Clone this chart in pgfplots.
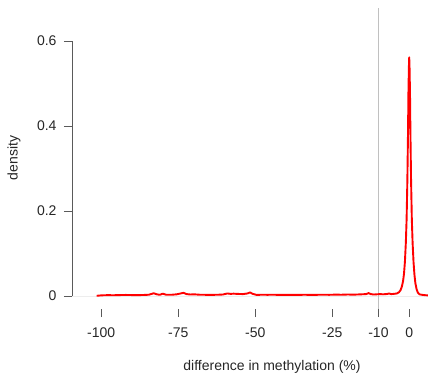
\documentclass[border=0pt]{standalone}
\usepackage{fontspec}
\setmainfont{Liberation Sans}
\usepackage{pgfplots}
\pgfplotsset{compat=1.18}
\definecolor{txt}{HTML}{262626}
\definecolor{axc}{HTML}{5A5A5A}
\definecolor{vline}{HTML}{C0C0C0}
\definecolor{hline}{HTML}{EDEDED}
\begin{document}
\begin{tikzpicture}
\useasboundingbox (0,0) rectangle (428bp,375bp);
\begin{axis}[
  at={(72bp,66bp)}, anchor=south west,
  scale only axis, width=356bp, height=301bp,
  xmin=-109.5, xmax=6.1, ymin=-0.0306, ymax=0.678,
  axis x line*=bottom, axis y line*=left,
  axis line style={draw=none},
  xtick={-100,-75,-50,-25,-10,0},
  xticklabels={-100,-75,-50,-25,-10,0},
  ytick={0,0.2,0.4,0.6},
  yticklabels={0,0.2,0.4,0.6},
  tick align=outside, major tick length=8bp,
  tick style={draw=axc, line width=0.8bp},
  tick label style={font=\fontsize{14bp}{16bp}\selectfont, text=txt},
  xticklabel style={yshift=-7bp},
  yticklabel style={xshift=-4bp},
  label style={font=\fontsize{14bp}{16bp}\selectfont, text=txt},
  xlabel={difference in methylation (\%)},
  xlabel style={at={(rel axis cs:0.5618,-0.1927)}, anchor=center},
  ylabel={density},
  ylabel style={at={(rel axis cs:-0.163,0.5017)}, anchor=center, rotate=0},
  clip=true,
]
\addplot[draw=hline, line width=0.8bp, forget plot] coordinates {(-109.5,0) (6.1,0)};
\addplot[draw=vline, line width=1.3bp, forget plot] coordinates {(-10,-0.0306) (-10,0.678)};
\addplot[draw=red, line width=1.9bp, line join=round] coordinates {
(-101.5,0.0005) (-100,0.0015) (-98,0.002) (-96,0.0018) (-94,0.0022) (-92,0.0025)
(-90,0.0022) (-88,0.002) (-86,0.0025) (-84.5,0.003) (-83,0.0065) (-82,0.004)
(-81,0.0028) (-80,0.0055) (-79,0.003) (-77,0.003) (-75.5,0.004) (-74.5,0.0055)
(-73.3,0.0075) (-72.3,0.0045) (-71,0.0035) (-70,0.004) (-68,0.003) (-66,0.0028)
(-64,0.0027) (-62,0.003) (-60.5,0.0035) (-59,0.006) (-58,0.005) (-57,0.0055)
(-56,0.005) (-54,0.0045) (-52.5,0.006) (-51.7,0.0085) (-50.8,0.005) (-49.5,0.0025)
(-48,0.003) (-46,0.0028) (-44,0.003) (-42,0.0025) (-40,0.0027) (-38,0.0028)
(-36,0.0025) (-34,0.003) (-32,0.0025) (-30,0.0028) (-28,0.003) (-26,0.0028)
(-24,0.0032) (-22,0.003) (-20,0.0035) (-18,0.0032) (-16,0.0038) (-14,0.0045)
(-13.2,0.0068) (-12.5,0.0045) (-11.5,0.0035) (-10.5,0.004) (-9.5,0.0045) (-8.5,0.004)
(-7.5,0.0045) (-6.5,0.0058) (-5.8,0.0045) (-5,0.005) (-4,0.006) (-3.3,0.009)
(-2.8,0.014) (-2.4,0.022) (-2.0,0.035) (-1.7,0.052) (-1.4,0.08) (-1.1,0.125)
(-0.85,0.18) (-0.6,0.273) (-0.4,0.38) (-0.25,0.48) (-0.1,0.54) (0,0.562)
(0.1,0.54) (0.25,0.48) (0.4,0.38) (0.6,0.273) (0.85,0.18) (1.1,0.125)
(1.4,0.08) (1.7,0.05) (2.0,0.03) (2.4,0.016) (2.8,0.008) (3.3,0.004)
(4,0.003) (5,0.002) (6,0.0015) (7,0.001)
};
\draw[axc, line width=0.8bp] (axis cs:-100,-0.0306) -- (axis cs:0,-0.0306);
\draw[axc, line width=0.8bp] (axis cs:-109.5,0) -- (axis cs:-109.5,0.6);
\end{axis}
\end{tikzpicture}
\end{document}
